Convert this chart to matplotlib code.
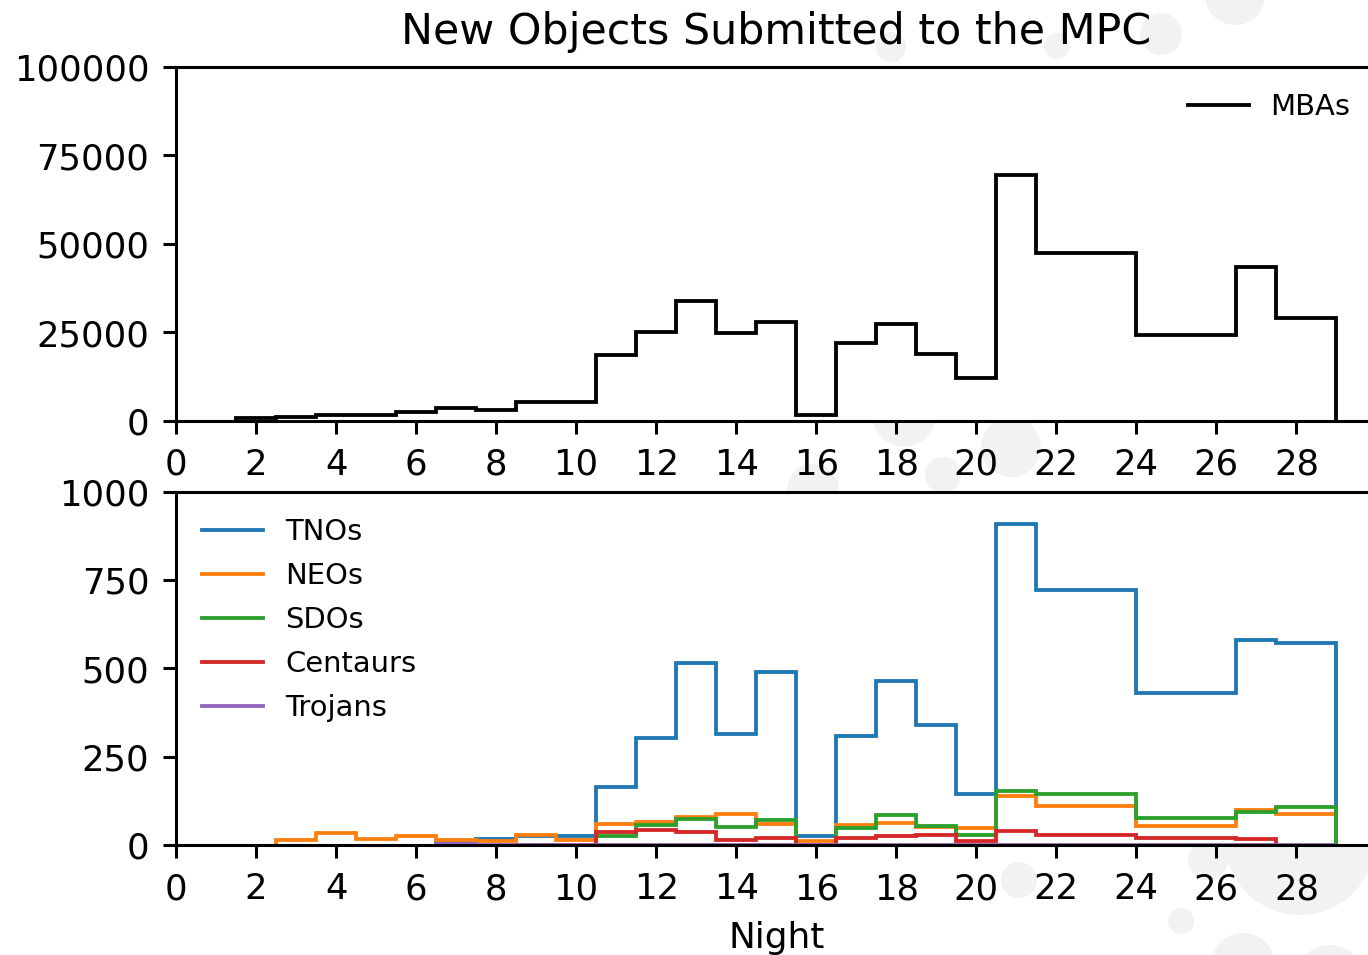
"""
New objects submitted to the MPC per night, split by population.
Top panel: main belt asteroids, bottom panel: the rest.
"""

import numpy as np
import matplotlib.pyplot as plt
from matplotlib.patches import Circle

nan = np.nan

# bin edges in nights (last bins were merged over several nights)
bin_edges = [1.5, 2.5, 3.5, 4.5, 5.5, 6.5, 7.5, 8.5, 9.5, 10.5, 11.5, 12.5,
             13.5, 14.5, 15.5, 16.5, 17.5, 18.5, 19.5, 20.5, 21.5,
             24.0, 26.5, 27.5, 29.0]

mbas = [700, 1200, 1500, 1500, 2600, 3600, 3100, 5300, 5300, 18600, 25200,
        33900, 24800, 27800, 1700, 21900, 27400, 18900, 12200, 69300,
        47400, 24100, 43400, 29000]

tnos = [nan, nan, nan, nan, nan, 5, 16, 24, 25, 163, 304, 516, 314, 491, 24,
        308, 465, 340, 143, 909, 721, 430, 579, 572]
neos = [nan, 13, 35, 18, 26, 15, 10, 27, 15, 60, 66, 78, 89, 60, 11, 57, 63,
        51, 47, 139, 111, 53, 99, 89]
sdos = [nan, nan, nan, nan, nan, nan, nan, nan, nan, 26, 56, 73, 51, 70, 1,
        47, 85, 54, 28, 154, 144, 77, 93, 107]
centaurs = [nan, nan, nan, nan, nan, nan, nan, 1, 1, 38, 43, 37, 15, 19, 0,
            19, 24, 27, 11, 40, 27, 21, 16, nan]
trojans = [nan, nan, nan, nan, nan, 3, 0, 0, 0, 1, 1, 1, 1, 1, 0, 1, 1, 1, 0,
           1, 1, 1, 1, 1]

others = {"TNOs": tnos, "NEOs": neos, "SDOs": sdos,
          "Centaurs": centaurs, "Trojans": trojans}

# faint blobs of the slide background (pixel centre x, y and radius)
bg_blobs = [(1235, -5, 30), (1161, 34, 21), (1057, 46, 13), (891, 47, 15),
            (904, 415, 32), (1011, 447, 30), (813, 490, 26), (943, 475, 18),
            (1019, 880, 18), (1208, 860, 20), (1181, 921, 13), (1300, 840, 75),
            (1243, 965, 32), (1330, 980, 35)]

DPI = 275
W, H = 1368, 955
plt.rcParams["xtick.labelsize"] = 9.3
plt.rcParams["ytick.labelsize"] = 9.3

fig = plt.figure(figsize=((W + 0.4) / DPI, (H + 0.4) / DPI), dpi=DPI)

for bx, by, br in bg_blobs:
    fig.add_artist(Circle((bx / DPI, (H - by) / DPI), br / DPI,
                          transform=fig.dpi_scale_trans, color="#f2f2f2",
                          zorder=-5, lw=0))

ax1 = fig.add_axes([176 / W, 1 - 421 / H, 1200 / W, 354 / H])
ax2 = fig.add_axes([176 / W, 1 - 845 / H, 1200 / W, 353 / H])

leg_kw = dict(frameon=False, fontsize=7.6, handlelength=2.1,
              handletextpad=0.75, labelspacing=0.55)

ax1.stairs(mbas, bin_edges, color="k", label="MBAs")
ax1.set_ylim(0, 100000)
ax1.set_yticks([0, 25000, 50000, 75000, 100000])
ax1.set_title("New Objects Submitted to the MPC", fontsize=11.2)
ax1.legend(loc="upper right", **leg_kw)

for i, (name, vals) in enumerate(others.items()):
    ax2.stairs(vals, bin_edges, color=f"C{i}", label=name)
ax2.set_ylim(0, 1000)
ax2.set_yticks([0, 250, 500, 750, 1000])
ax2.set_xlabel("Night", fontsize=9.4)
ax2.legend(loc="upper left", **leg_kw)

for ax in (ax1, ax2):
    ax.set_xlim(0, 30)
    ax.set_xticks(np.arange(0, 29, 2))

fig.savefig("out.png", dpi=DPI)
